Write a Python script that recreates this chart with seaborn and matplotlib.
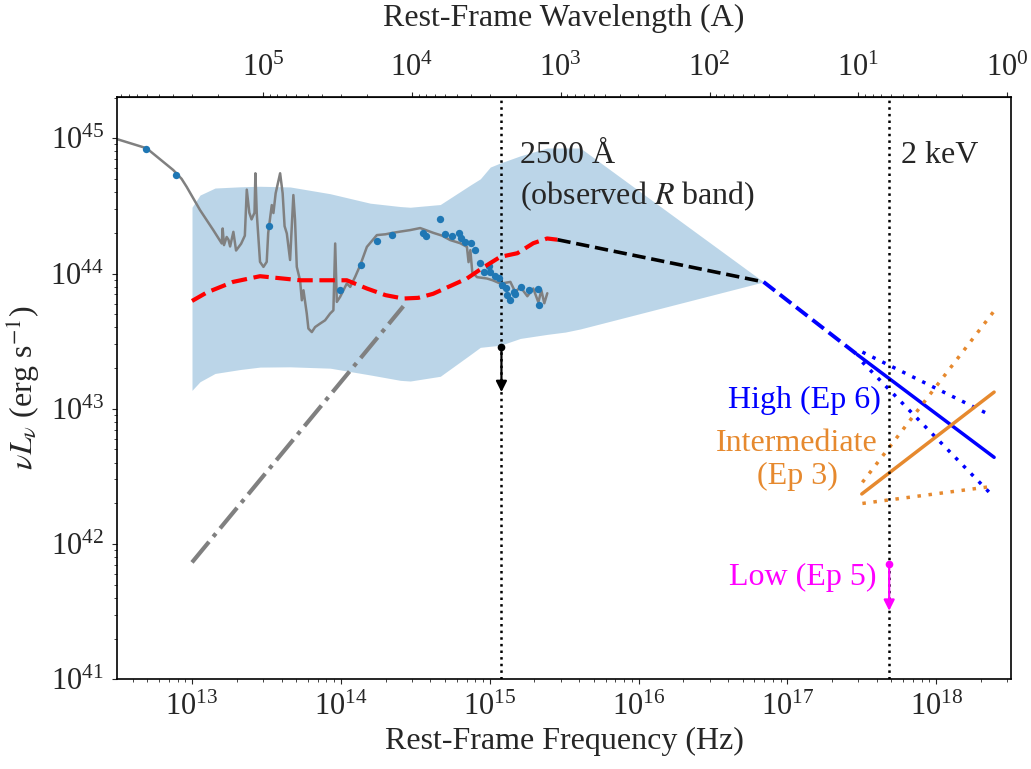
import numpy as np
import matplotlib
matplotlib.use("Agg")
import matplotlib.pyplot as plt
import seaborn as sns

# ---------------- data (log10 units) ----------------
# shaded SED range
band_lognu = [13.0, 13.054, 13.155, 13.323, 13.457, 13.659, 13.928, 14.197, 14.40, 14.466, 14.668,
              14.87, 14.937, 15.004, 15.071, 15.206, 15.387, 15.508, 15.609, 16.84]
band_upper = [44.49, 44.58, 44.632, 44.641, 44.645, 44.64, 44.59, 44.52, 44.495, 44.49, 44.51,
              44.654, 44.70, 44.787, 44.817, 44.87, 44.928, 44.928, 44.928, 43.938]
band_lower = [43.136, 43.20, 43.261, 43.29, 43.308, 43.31, 43.30, 43.25, 43.21, 43.205, 43.24,
              43.40, 43.454, 43.462, 43.469, 43.52, 43.55, 43.567, 43.59, 43.938]

# mean template (red dashed)
red_lognu = [13.0, 13.1, 13.276, 13.457, 13.726, 14.04, 14.175, 14.30, 14.419, 14.52, 14.62,
             14.847, 14.95, 15.071, 15.186, 15.293, 15.386, 15.455]
red_logL = [43.797, 43.86, 43.938, 43.98, 43.95, 43.95, 43.889, 43.84, 43.815, 43.82, 43.85,
            43.963, 44.04, 44.123, 44.15, 44.224, 44.259, 44.25]

# interpolation to X-ray (black dashed)
blk_lognu = [15.455, 16.84]
blk_logL = [44.25, 43.938]

# high state power law (blue)
blue_dash_lognu = [16.84, 17.47]
blue_dash_logL = [43.938, 43.40]
blue_lognu = [17.47, 18.389]
blue_logL = [43.40, 42.641]
blue_up_lognu = [17.504, 18.36]
blue_up_logL = [43.419, 42.955]
blue_lo_lognu = [17.504, 18.36]
blue_lo_logL = [43.345, 42.378]

# intermediate state power law (orange)
orng_lognu = [17.50, 18.389]
orng_logL = [42.370, 43.123]
orng_up_lognu = [17.504, 18.387]
orng_up_logL = [42.456, 43.72]
orng_lo_lognu = [17.504, 18.37]
orng_lo_logL = [42.30, 42.425]

# accretion-disk slope (grey dash-dot)
disk_lognu = [13.0, 14.42]
disk_logL = [41.864, 43.758]

# observed spectrum / host template (grey solid)
spec_lognu = [12.498, 12.695, 12.874, 12.93, 12.964, 13.054, 13.143, 13.2, 13.206, 13.215, 13.233,
              13.245, 13.256, 13.278, 13.296, 13.33, 13.355, 13.368, 13.385, 13.40, 13.42, 13.426,
              13.435, 13.457, 13.48, 13.502, 13.512, 13.536, 13.547, 13.562, 13.592, 13.609, 13.622,
              13.637, 13.659, 13.681, 13.692, 13.704, 13.726, 13.738, 13.749, 13.771, 13.782, 13.805,
              13.827, 13.861, 13.894, 13.928, 13.95, 13.962, 13.973, 13.995, 14.04, 14.063, 14.096,
              14.13, 14.175, 14.242, 14.30, 14.345, 14.40, 14.466, 14.533, 14.623, 14.68, 14.735,
              14.802, 14.847, 14.858, 14.87, 14.883, 14.915, 14.982, 15.02, 15.071, 15.10, 15.139,
              15.172, 15.206, 15.253, 15.293, 15.327, 15.347, 15.367, 15.387]
spec_logL = [44.993, 44.926, 44.765, 44.70, 44.641, 44.469, 44.321, 44.222, 44.333, 44.21, 44.27,
             44.25, 44.20, 44.308, 44.17, 44.22, 44.28, 44.62, 44.45, 44.40, 44.45, 44.741,
             44.447, 44.086, 44.049, 44.086, 44.30, 44.506, 44.447, 44.593, 44.741, 44.593, 44.35,
             44.296, 44.10, 44.58, 44.40, 44.049, 43.95, 43.802, 43.876, 43.704, 43.593, 43.567,
             43.604, 43.63, 43.654, 43.704, 43.728, 44.222, 43.79, 43.827, 43.926, 43.901, 43.975,
             44.061, 44.197, 44.284, 44.29, 44.30, 44.31, 44.321, 44.336, 44.30, 44.28, 44.247,
             44.224, 44.197, 44.084, 44.173, 44.01, 43.973, 43.963, 43.95, 43.926, 43.93, 43.938,
             43.862, 43.901, 43.832, 43.889, 43.787, 43.876, 43.78, 43.854]

# photometric points (blue dots)
phot_lognu = [12.689, 12.892, 13.516, 13.995, 14.137, 14.242, 14.345, 14.555, 14.574, 14.663, 14.701,
              14.746, 14.791, 14.807, 14.836, 14.874, 14.903, 14.937, 14.964, 14.993, 14.999, 15.033,
              15.06, 15.083, 15.112, 15.116, 15.134, 15.165, 15.172, 15.21, 15.262, 15.322, 15.329]
phot_logL = [44.919, 44.730, 44.353, 43.876, 44.064, 44.239, 44.281, 44.296, 44.276, 44.40, 44.289,
             44.276, 44.296, 44.264, 44.234, 44.222, 44.173, 44.074, 44.012, 44.054, 44.012, 43.982,
             43.97, 43.913, 43.896, 43.839, 43.807, 43.864, 43.847, 43.901, 43.876, 43.884, 43.765]

# upper limits
uv_lim_lognu, uv_lim_top, uv_lim_tip = 15.079, 43.456, 43.123
x_lim_lognu, x_lim_top, x_lim_tip = 17.684, 41.852, 41.506

nu_2500 = 2.998e18 / 2500.0
nu_2kev = 2000.0 / 4.1357e-15

p = lambda a: 10 ** np.asarray(a, dtype=float)

# ---------------- style ----------------
sns.set_style("ticks")
plt.rcParams["font.family"] = ["Liberation Serif", "DejaVu Serif"]
plt.rcParams["mathtext.fontset"] = "stix"
plt.rcParams["font.size"] = 23

FS = 23
TFS = 22

fig = plt.figure(figsize=(10.31, 7.69), dpi=100)
ax = fig.add_axes([0.1138, 0.1167, 0.8668, 0.7576])
ax.set_xscale("log")
ax.set_yscale("log")

ax.fill_between(p(band_lognu), p(band_lower), p(band_upper), color="#1f77b4", alpha=0.3, linewidth=0)

sns.lineplot(x=p(spec_lognu), y=p(spec_logL), ax=ax, color="gray", lw=1.8, sort=False, estimator=None)
sns.lineplot(x=p(disk_lognu), y=p(disk_logL), ax=ax, color="gray", lw=3, linestyle="-.", sort=False, estimator=None)
sns.scatterplot(x=p(phot_lognu), y=p(phot_logL), ax=ax, color="#1f77b4", s=28, linewidth=0, zorder=3)

ax.plot(p(red_lognu), p(red_logL), color="red", lw=3, ls="--", zorder=4)
ax.plot(p(blk_lognu), p(blk_logL), color="black", lw=2.6, ls="--")
ax.plot(p(blue_dash_lognu), p(blue_dash_logL), color="blue", lw=2.8, ls="--")
ax.plot(p(blue_lognu), p(blue_logL), color="blue", lw=2.5)
ax.plot(p(blue_up_lognu), p(blue_up_logL), color="blue", lw=2.5, ls=(0, (1, 2.2)))
ax.plot(p(blue_lo_lognu), p(blue_lo_logL), color="blue", lw=2.5, ls=(0, (1, 2.2)))
orange = "#e6892e"
ax.plot(p(orng_lognu), p(orng_logL), color=orange, lw=2.5)
ax.plot(p(orng_up_lognu), p(orng_up_logL), color=orange, lw=2.5, ls=(0, (1, 2.2)))
ax.plot(p(orng_lo_lognu), p(orng_lo_logL), color=orange, lw=2.5, ls=(0, (1, 2.2)))

ax.axvline(nu_2500, color="black", ls=":", lw=1.8)
ax.axvline(nu_2kev, color="black", ls=":", lw=1.8)

for xl, yt, ytip, col in [(uv_lim_lognu, uv_lim_top, uv_lim_tip, "black"),
                          (x_lim_lognu, x_lim_top, x_lim_tip, "magenta")]:
    ax.annotate("", xy=(p(xl), p(ytip)), xytext=(p(xl), p(yt)),
                arrowprops=dict(arrowstyle="-|>", color=col, lw=1.6, mutation_scale=16,
                                shrinkA=0, shrinkB=0))
    ax.plot([p(xl)], [p(yt)], "o", color=col, ms=4.5)

ax.set_xlim(3.15e12, 3.18e18)
ax.set_ylim(1e41, 2.03e45)

ax.text(10**15.206, 10**44.876, "2500 Å", ha="left", va="center", fontsize=FS)
ax.text(10**15.206, 10**44.572, "(observed $R$ band)", ha="left", va="center", fontsize=FS)
ax.text(10**17.761, 10**44.876, "2 keV", ha="left", va="center", fontsize=FS)
ax.text(10**17.116, 10**43.062, "High (Ep 6)", ha="center", va="center", color="blue", fontsize=FS)
ax.text(10**17.065, 10**42.62, "Intermediate\n(Ep 3)", ha="center", va="center", color=orange,
        fontsize=FS, linespacing=1.2)
ax.text(10**17.10, 10**41.753, "Low (Ep 5)", ha="center", va="center", color="magenta", fontsize=FS)

ax.set_xlabel("Rest-Frame Frequency (Hz)", fontsize=FS, labelpad=4)
ax.set_ylabel(r"$\nu L_\nu$ (erg s$^{-1}$)", fontsize=FS, labelpad=6)
ax.tick_params(axis="both", which="major", labelsize=TFS, pad=6)

sec = ax.secondary_xaxis("top", functions=(lambda nu: 2.998e18 / nu, lambda lam: 2.998e18 / lam))
sec.set_xlabel("Rest-Frame Wavelength (A)", fontsize=FS, labelpad=20)
sec.tick_params(axis="x", which="major", labelsize=TFS, pad=6)

for s in ax.spines.values():
    s.set_linewidth(1.2)
    s.set_color("black")

fig.savefig("out.png", dpi=100)
